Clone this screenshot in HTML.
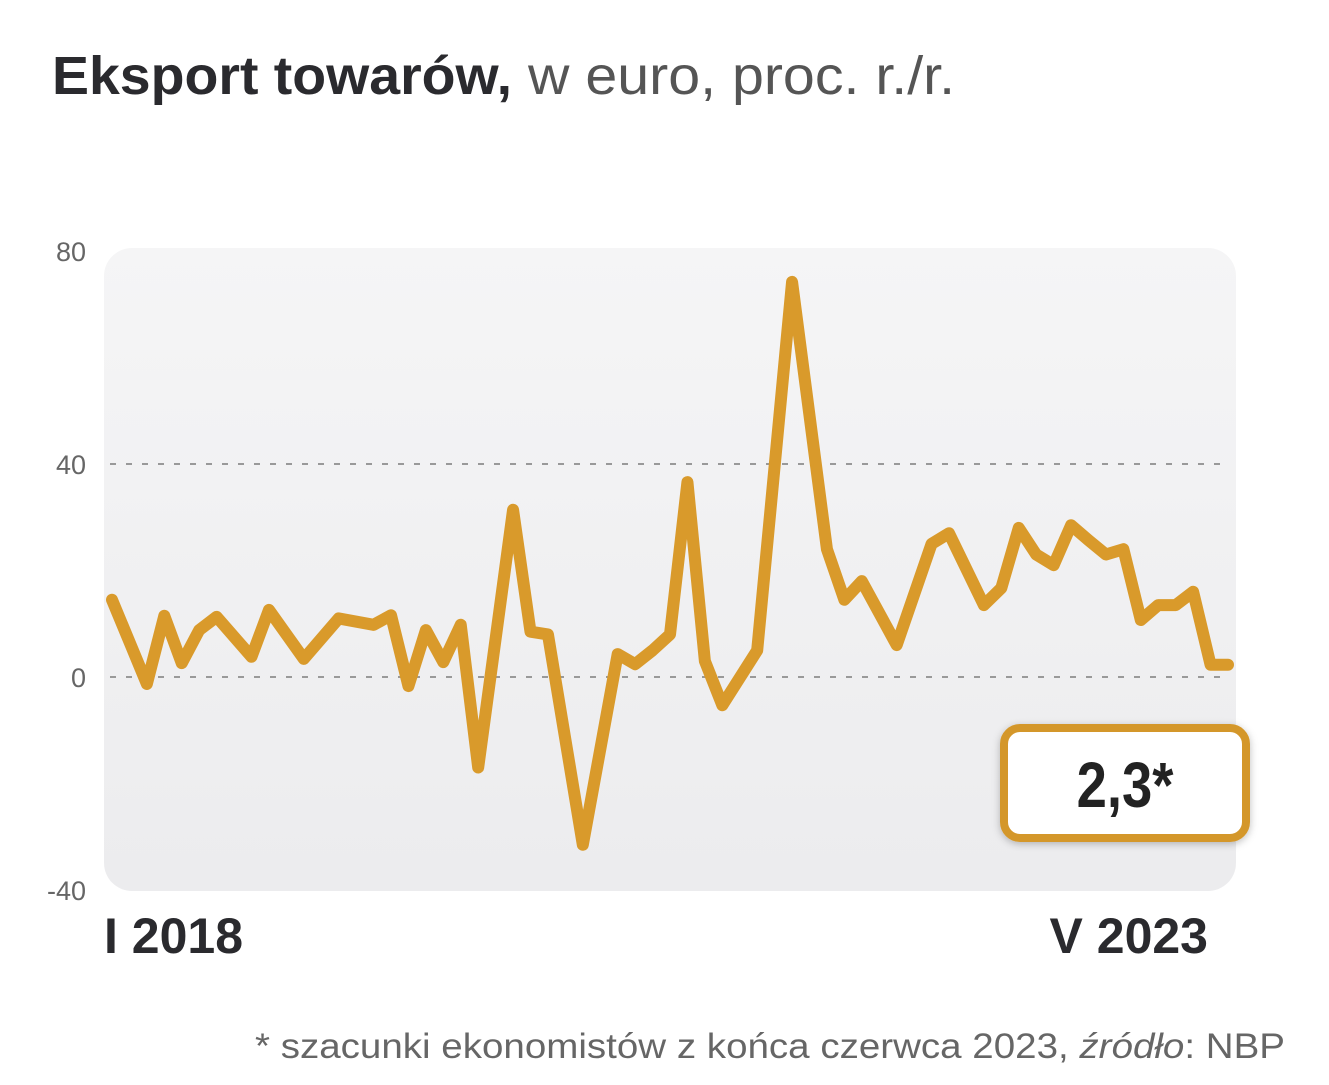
<!DOCTYPE html>
<html><head><meta charset="utf-8"><style>
body{margin:0;background:#fff;width:1329px;height:1080px;overflow:hidden;font-family:"Liberation Sans",sans-serif}
</style></head><body>
<svg width="1329" height="1080">
<defs><linearGradient id="bg" x1="0" y1="0" x2="0" y2="1"><stop offset="0" stop-color="#f5f5f6"/><stop offset="1" stop-color="#ececee"/></linearGradient>
<filter id="sh" x="-20%" y="-20%" width="140%" height="140%"><feDropShadow dx="0" dy="2" stdDeviation="4" flood-color="#000" flood-opacity="0.25"/></filter></defs>
<text x="52" y="94" font-size="54" fill="#2a2a2e" font-weight="bold" textLength="460" lengthAdjust="spacingAndGlyphs">Eksport towarów,</text>
<text x="528" y="94" font-size="54" fill="#555" textLength="427" lengthAdjust="spacingAndGlyphs">w euro, proc. r./r.</text>
<rect x="104" y="248" width="1132" height="643" rx="28" fill="url(#bg)"/>
<g id="grid"></g><g id="ylab"></g>
<polyline id="line" fill="none" stroke="#d99a2b" stroke-width="12" stroke-linejoin="round" stroke-linecap="round"/>
<text x="104" y="953" font-size="50" font-weight="bold" fill="#2a2a2e">I 2018</text>
<text x="1208" y="953" font-size="50" font-weight="bold" fill="#2a2a2e" text-anchor="end">V 2023</text>
<rect x="1004" y="728" width="242" height="110" rx="16" fill="#fff" stroke="#d4972a" stroke-width="8" filter="url(#sh)"/>
<text x="1125" y="807" font-size="64" font-weight="bold" fill="#222" text-anchor="middle" transform="translate(1125 0) scale(0.85 1) translate(-1125 0)">2,3*</text>
<text x="255" y="1058" font-size="35" fill="#666" textLength="1030" lengthAdjust="spacingAndGlyphs">* szacunki ekonomistów z końca czerwca 2023, <tspan font-style="italic">źródło</tspan>: NBP</text>
</svg>
<script>
const monthIdx=[0,2,3,4,5,6,8,9,11,13,15,16,17,18,19,20,21,23,24,25,27,29,30,31,32,33,34,35,37,39,41,42,43,45,47,48,50,51,52,53,54,55,56,57,58,59,60,61,62,63,64];
const values=[14.5,-1.3,11.5,2.6,8.8,11.3,3.8,12.6,3.4,11,9.8,11.6,-1.7,8.8,2.8,9.8,-17,31.4,8.5,8,-31.5,4.3,2.4,5,8,36.6,3,-5.3,5,74.2,24,14.5,18,6,25,27,13.5,16.7,28,23,21,28.5,25.7,23,24,10.7,13.5,13.5,16,2.3,2.3];
const yTicks=[80,40,0,-40];
const x=m=>112+m*(1116/64);
const y=v=>677-v*(213/40);
const g=document.getElementById('grid'),yl=document.getElementById('ylab');
yTicks.forEach(t=>{
 if(t===40||t===0){const l=document.createElementNS('http://www.w3.org/2000/svg','line');
 l.setAttribute('x1',110);l.setAttribute('x2',1230);l.setAttribute('y1',y(t));l.setAttribute('y2',y(t));
 l.setAttribute('stroke','#999');l.setAttribute('stroke-width','2');l.setAttribute('stroke-dasharray','6 10');
 
 
 g.appendChild(l);}
 const tx=document.createElementNS('http://www.w3.org/2000/svg','text');
 tx.setAttribute('x',86);tx.setAttribute('y',y(t)+10);tx.setAttribute('text-anchor','end');
 tx.setAttribute('font-size','27');tx.setAttribute('fill','#666');tx.textContent=t;
 
 
 yl.appendChild(tx);
});
document.getElementById('line').setAttribute('points',monthIdx.map((m,i)=>x(m)+','+y(values[i])).join(' '));
</script>
</body></html>
